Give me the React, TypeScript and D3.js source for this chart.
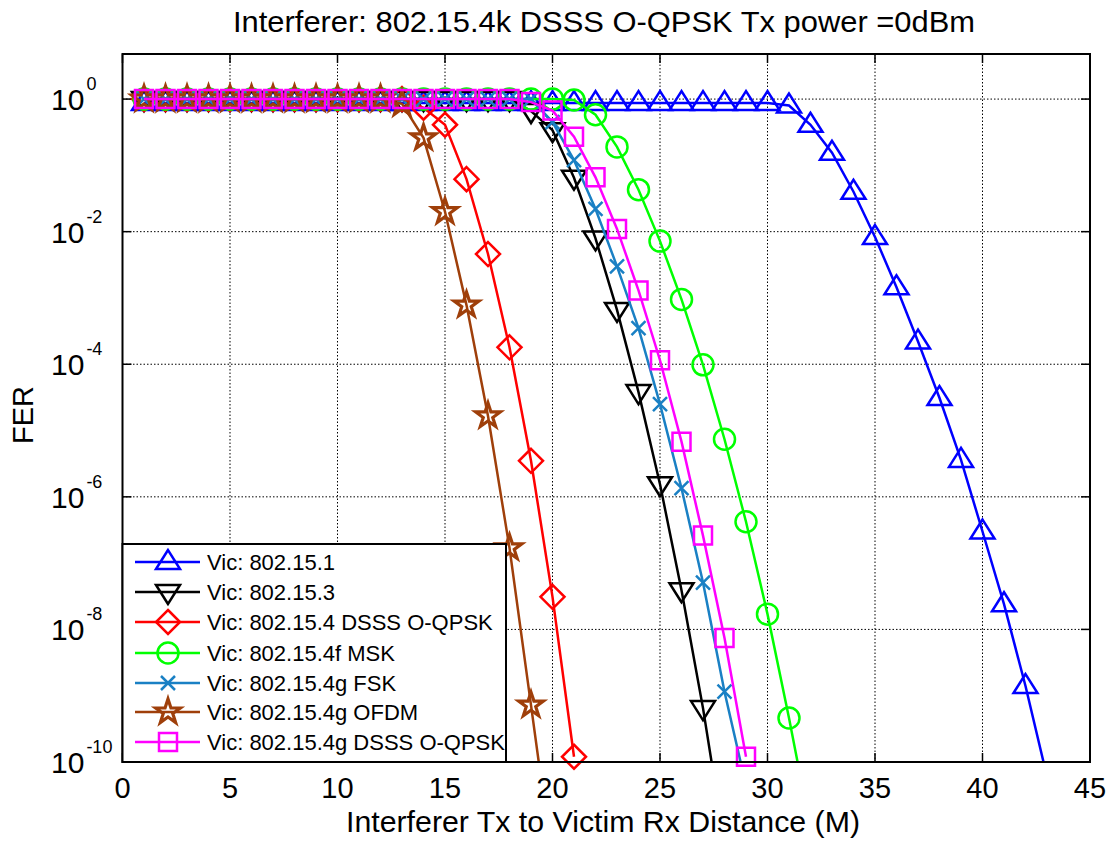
import React from 'react';
import * as d3 from 'd3';

const W = 1112;
const H = 842;

const titleText = 'Interferer: 802.15.4k DSSS O-QPSK Tx power =0dBm';
const xLabel = 'Interferer Tx to Victim Rx Distance (M)';
const yLabel = 'FER';

const xTicks = [0, 5, 10, 15, 20, 25, 30, 35, 40, 45];
const yTickExps = [0, -2, -4, -6, -8, -10];

const distances = [1, 2, 3, 4, 5, 6, 7, 8, 9, 10, 11, 12, 13, 14, 15, 16, 17, 18, 19, 20, 21, 22, 23, 24, 25, 26, 27, 28, 29, 30, 31, 32, 33, 34, 35, 36, 37, 38, 39, 40, 41, 42, 43];

const fer802151 = [0.87, 0.87, 0.87, 0.87, 0.87, 0.87, 0.87, 0.87, 0.87, 0.87, 0.87, 0.87, 0.87, 0.87, 0.87, 0.87, 0.87, 0.87, 0.87, 0.87, 0.87, 0.87, 0.87, 0.87, 0.87, 0.87, 0.87, 0.87, 0.87, 0.87, 0.8, 0.41, 0.155, 0.04, 8.3e-3, 1.45e-3, 2.2e-4, 3.1e-5, 3.6e-6, 3.0e-7, 2.4e-8, 1.4e-9, 6e-11];
const fer802153 = [1, 1, 1, 1, 1, 1, 1, 1, 1, 1, 1, 1, 1, 1, 1, 1, 1, 1, 0.66, 0.34, 0.065, 7.9e-3, 6.6e-4, 3.8e-5, 1.55e-6, 3.9e-8, 6.5e-10, 6e-12];
const fer802154 = [1, 1, 1, 1, 1, 1, 1, 1, 1, 1, 1, 1, 1, 0.74, 0.41, 0.062, 4.6e-3, 1.8e-4, 3.5e-6, 3.1e-8, 1.2e-10];
const fer802154fMsk = [1, 1, 1, 1, 1, 1, 1, 1, 1, 1, 1, 1, 1, 1, 1, 1, 1, 1, 1, 1, 0.97, 0.58, 0.19, 0.043, 7.2e-3, 9.5e-4, 9.8e-5, 7.4e-6, 4.2e-7, 1.7e-8, 4.6e-10, 1e-11];
const fer802154gFsk = [1, 1, 1, 1, 1, 1, 1, 1, 1, 1, 1, 1, 1, 1, 1, 1, 1, 1, 1, 0.45, 0.12, 0.022, 3.0e-3, 3.5e-4, 2.5e-5, 1.35e-6, 5.1e-8, 1.15e-9, 4.4e-11];
const fer802154gOfdm = [1, 1, 1, 1, 1, 1, 1, 1, 1, 1, 1, 1, 0.85, 0.26, 0.02, 7.8e-4, 1.66e-5, 1.7e-7, 7.2e-10, 3e-12];
const fer802154gDsss = [1, 1, 1, 1, 1, 1, 1, 1, 1, 1, 1, 1, 1, 1, 1, 1, 1, 1, 0.9, 0.67, 0.27, 0.066, 0.011, 1.3e-3, 1.15e-4, 6.8e-6, 2.6e-7, 7.4e-9, 1.2e-10];

const seriesNames = [
  'Vic: 802.15.1',
  'Vic: 802.15.3',
  'Vic: 802.15.4 DSSS O-QPSK',
  'Vic: 802.15.4f MSK',
  'Vic: 802.15.4g FSK',
  'Vic: 802.15.4g OFDM',
  'Vic: 802.15.4g DSSS O-QPSK',
];
const seriesValues = [fer802151, fer802153, fer802154, fer802154fMsk, fer802154gFsk, fer802154gOfdm, fer802154gDsss];
const seriesColors = ['#0000ff', '#000000', '#ff0000', '#00ff00', '#1a80c4', '#9f3f0a', '#ff00ff'];
const seriesMarkers = ['triUp', 'triDown', 'diamond', 'circle', 'cross', 'star', 'square'];

// layout
const left = 122.5;
const right = 1090;
const top = 54;
const bottom = 762;

const x = d3.scaleLinear().domain([0, 45]).range([left, right]);
const y = d3.scaleLog().domain([1e-10, Math.pow(10, 0.68)]).range([bottom, top]);

function starPath(R: number, r: number) {
  const pts: string[] = [];
  for (let i = 0; i < 10; i++) {
    const rad = i % 2 === 0 ? R : r;
    const a = -Math.PI / 2 + (i * Math.PI) / 5;
    pts.push(`${(rad * Math.cos(a)).toFixed(2)},${(rad * Math.sin(a)).toFixed(2)}`);
  }
  return 'M' + pts.join('L') + 'Z';
}

function markerPath(type: string) {
  switch (type) {
    case 'triUp':
      return 'M0,-12L-12,7L12,7Z';
    case 'triDown':
      return 'M0,12L-12,-7L12,-7Z';
    case 'diamond':
      return 'M0,-12L12,0L0,12L-12,0Z';
    case 'circle':
      return 'M10.5,0A10.5,10.5 0 1,1 -10.5,0A10.5,10.5 0 1,1 10.5,0Z';
    case 'cross':
      return 'M-7,-7L7,7M-7,7L7,-7';
    case 'star':
      return starPath(13, 5);
    case 'square':
      return 'M-9,-9L9,-9L9,9L-9,9Z';
  }
  return '';
}

function Marker({ type, cx, cy, color }: { type: string; cx: number; cy: number; color: string }) {
  return (
    <path
      d={markerPath(type)}
      transform={`translate(${cx},${cy})`}
      fill="none"
      stroke={color}
      strokeWidth={type === 'star' ? 3.2 : 2.5}
      strokeLinejoin="miter"
    />
  );
}

const legendRows = [562, 592, 622, 653, 683, 712, 742];

export default function App() {
  const line = d3
    .line<[number, number]>()
    .x((d) => x(d[0]))
    .y((d) => y(d[1]));

  const font = 'Arial, "Liberation Sans", Helvetica, sans-serif';

  return (
    <svg
      width={W}
      height={H}
      style={{ position: 'absolute', left: 0, top: 0, background: '#fff' }}
      fontFamily={font}
    >
      <defs>
        <clipPath id="plotClip">
          <rect x={left} y={top} width={right - left} height={bottom - top} />
        </clipPath>
      </defs>
      <rect x={0} y={0} width={W} height={H} fill="#fff" />

      {/* grid */}
      <g stroke="#000" strokeWidth={1} strokeDasharray="1.5,2">
        {xTicks
          .filter((t) => t > 0 && t < 45)
          .map((t) => (
            <line key={'gx' + t} x1={x(t)} x2={x(t)} y1={top} y2={bottom} />
          ))}
        {yTickExps
          .filter((e) => e > -10)
          .map((e) => (
            <line key={'gy' + e} x1={left} x2={right} y1={y(Math.pow(10, e))} y2={y(Math.pow(10, e))} />
          ))}
      </g>

      {/* ticks */}
      <g stroke="#000" strokeWidth={1.5}>
        {xTicks.map((t) => (
          <g key={'tx' + t}>
            <line x1={x(t)} x2={x(t)} y1={bottom} y2={bottom - 9} />
            <line x1={x(t)} x2={x(t)} y1={top} y2={top + 9} />
          </g>
        ))}
        {yTickExps.map((e) => (
          <g key={'ty' + e}>
            <line x1={left} x2={left + 9} y1={y(Math.pow(10, e))} y2={y(Math.pow(10, e))} />
            <line x1={right} x2={right - 9} y1={y(Math.pow(10, e))} y2={y(Math.pow(10, e))} />
          </g>
        ))}
      </g>

      {/* series */}
      {seriesValues.map((vals, si) => {
        const pts: [number, number][] = vals.map((v, i) => [distances[i], v]);
        return (
          <g key={'s' + si}>
            <path
              d={line(pts) || ''}
              fill="none"
              stroke={seriesColors[si]}
              strokeWidth={2.5}
              clipPath="url(#plotClip)"
            />
            {pts
              .filter((p) => p[1] >= 1e-10)
              .map((p, i) => (
                <Marker key={i} type={seriesMarkers[si]} cx={x(p[0])} cy={y(p[1])} color={seriesColors[si]} />
              ))}
          </g>
        );
      })}

      {/* axes box */}
      <rect x={left} y={top} width={right - left} height={bottom - top} fill="none" stroke="#000" strokeWidth={2} />

      {/* x tick labels */}
      {xTicks.map((t) => (
        <text key={'xl' + t} x={x(t)} y={798} fontSize={29} textAnchor="middle" fill="#000">
          {t}
        </text>
      ))}

      {/* y tick labels */}
      {yTickExps.map((e) => (
        <text key={'yl' + e} x={51} y={y(Math.pow(10, e)) + 11} fontSize={30} fill="#000">
          10
          <tspan dx={2} dy={-20} fontSize={18}>
            {e}
          </tspan>
        </text>
      ))}

      {/* title & labels */}
      <text x={604} y={32} fontSize={30} textAnchor="middle" fill="#000" textLength={742} lengthAdjust="spacingAndGlyphs">
        {titleText}
      </text>
      <text x={603} y={832} fontSize={30} textAnchor="middle" fill="#000" textLength={514} lengthAdjust="spacingAndGlyphs">
        {xLabel}
      </text>
      <text transform="translate(33,415) rotate(-90)" fontSize={29} textAnchor="middle" fill="#000">
        {yLabel}
      </text>

      {/* legend */}
      <g>
        <rect x={left} y={544} width={506 - left} height={bottom - 544} fill="#fff" stroke="#000" strokeWidth={2} />
        {seriesNames.map((name, i) => (
          <g key={'lg' + i}>
            <line x1={135} x2={200} y1={legendRows[i]} y2={legendRows[i]} stroke={seriesColors[i]} strokeWidth={2.5} />
            <Marker type={seriesMarkers[i]} cx={168} cy={legendRows[i]} color={seriesColors[i]} />
            <text x={207} y={legendRows[i] + 8} fontSize={22} fill="#000">
              {name}
            </text>
          </g>
        ))}
      </g>
    </svg>
  );
}
